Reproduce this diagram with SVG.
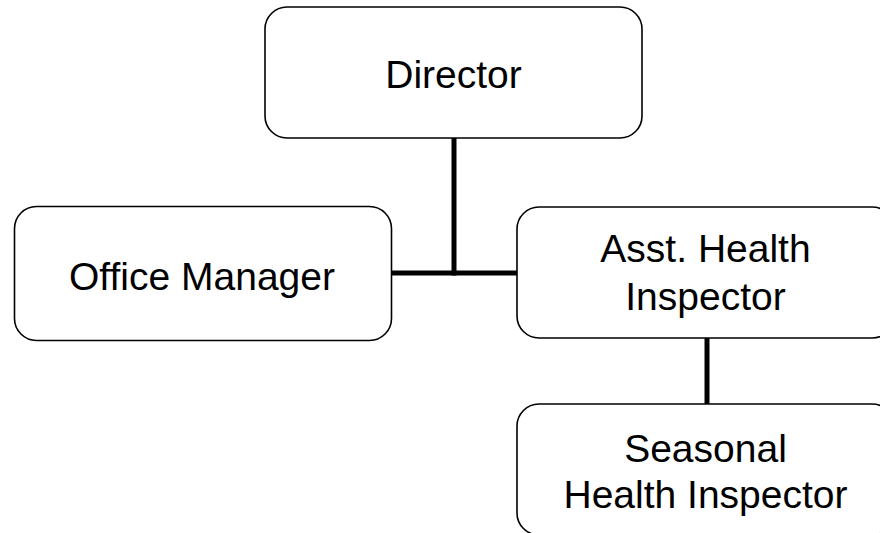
<svg xmlns="http://www.w3.org/2000/svg" width="880" height="533" viewBox="0 0 880 533">
<style>
.box{fill:#fff;stroke:#000;stroke-width:1.6}
.t{font-family:"Liberation Sans",Arial,sans-serif;font-size:39px;fill:#000;text-anchor:middle}
.c{stroke:#000;stroke-width:5;fill:none}
</style>
<rect width="880" height="533" fill="#fff"/>
<g id="connectors">
<line class="c" x1="454" y1="138" x2="454" y2="275.5"/>
<line class="c" x1="392" y1="273" x2="517" y2="273"/>
<line class="c" x1="707" y1="338" x2="707" y2="404"/>
</g>
<g id="director">
<rect class="box" x="265" y="7" width="377" height="131" rx="22"/>
<text class="t" x="453.5" y="88">Director</text>
</g>
<g id="office-manager">
<rect class="box" x="14.5" y="206.5" width="377" height="134" rx="22"/>
<text class="t" x="202" y="290">Office Manager</text>
</g>
<g id="asst-health-inspector">
<rect class="box" x="517" y="207" width="377" height="131" rx="22"/>
<text class="t" x="705.5" y="262">Asst. Health</text>
<text class="t" x="705.5" y="310">Inspector</text>
</g>
<g id="seasonal-health-inspector">
<rect class="box" x="517" y="404" width="377" height="131" rx="22"/>
<text class="t" x="705.5" y="462">Seasonal</text>
<text class="t" x="705.5" y="508">Health Inspector</text>
</g>
</svg>
